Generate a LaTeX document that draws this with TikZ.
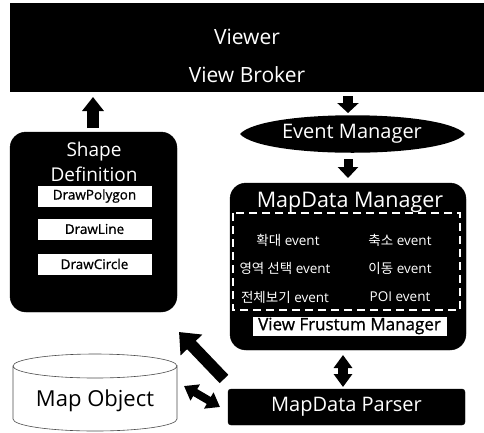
\documentclass[tikz,border=0pt]{standalone}
\usepackage{fontspec}
\setmainfont{Open Sans}
\newfontfamily\kr{Noto Sans CJK KR}
\newfontfamily\heavy{Open Sans}[FakeBold=1]
\usetikzlibrary{arrows.meta,shapes.geometric,calc}
\tikzset{
  blackbox/.style={fill=black, draw=black, text=white, inner sep=0pt},
  whitebox/.style={fill=white, draw=black, text=black, inner sep=0pt, line width=0.6pt},
  txt/.style={inner sep=0pt, text=white},
  evt/.style={inner sep=0pt, text=white, font=\fontsize{13.5}{15}\selectfont},
  blockarrow/.style={line width=#1, draw=black},
  tipA/.tip={Triangle[width=21pt,length=14pt]},
  tipB/.tip={Triangle[width=29pt,length=18pt]},
  tipC/.tip={Triangle[width=18pt,length=13pt]},
}
\begin{document}
\begin{tikzpicture}[x=1pt,y=-1pt]
\useasboundingbox (0,0) rectangle (484,432);

% Viewer / View Broker bar
\node[blackbox, minimum width=474pt, minimum height=88pt] (viewer) at (247,47) {};
\node[txt, font=\fontsize{21}{23}\selectfont] (vtxt) at (247,37) {Viewer};
\node[txt, font=\fontsize{21}{23}\selectfont] (broker) at (247,75) {View Broker};

% Event Manager (lens-shaped outline with its label)
\fill[black] (240,134) .. controls (262,109) and (443,109) .. (465,134)
  .. controls (443,159) and (262,159) .. cycle;
\node[txt, font=\fontsize{20}{22}\selectfont] (event) at (352,134) {Event Manager};

% Shape Definition
\node[blackbox, rounded corners=16pt, minimum width=167pt, minimum height=180pt] (shape) at (93.5,222) {};
\node[txt, font=\fontsize{19}{21}\selectfont] (shapet1) at (94,152) {Shape};
\node[txt, font=\fontsize{19}{21}\selectfont] (shapet2) at (94,174) {Definition};
\node[whitebox, minimum width=115pt, minimum height=22pt, font=\fontsize{13.5}{15}\heavy] (poly) at (94.5,196) {DrawPolygon};
\node[whitebox, minimum width=115pt, minimum height=22pt, font=\fontsize{13.5}{15}\heavy] (line) at (94.5,229) {DrawLine};
\node[whitebox, minimum width=115pt, minimum height=22pt, font=\fontsize{13.5}{15}\heavy] (circle) at (94.5,264) {DrawCircle};

% MapData Manager
\node[blackbox, rounded corners=16pt, minimum width=236pt, minimum height=167pt] (manager) at (348,266.5) {};
\node[txt, font=\fontsize{21.5}{23}\selectfont] (mtitle) at (350,202) {MapData Manager};
\draw[white, line width=1.8pt, dash pattern=on 8pt off 5pt] (233,213) rectangle (460,310);
\node[evt] (e1) at (288,240) {{\kr 확대} event};
\node[evt] (e2) at (400,240) {{\kr 축소} event};
\node[evt] (e3) at (285,268) {{\kr 영역 선택} event};
\node[evt] (e4) at (400,268) {{\kr 이동} event};
\node[evt] (e5) at (285,297) {{\kr 전체보기} event};
\node[evt] (e6) at (400,297) {POI event};
\node[whitebox, minimum width=195pt, minimum height=20pt, font=\fontsize{17}{18}\heavy] (frustum) at (349.5,326) {View Frustum Manager};

% MapData Parser
\node[blackbox, rounded corners=3pt, minimum width=237pt, minimum height=36pt, font=\fontsize{20}{22}\selectfont] (parser) at (346.5,407) {MapData Parser};

% Map Object cylinder
\draw[draw=black!70, fill=white, line width=0.6pt]
  (13,366) -- (13,419) arc[start angle=180, end angle=360, x radius=82, y radius=-12] -- (177,366)
  arc[start angle=0, end angle=360, x radius=82, y radius=12];
\node[inner sep=0pt, font=\fontsize{22}{25}\selectfont] (mapobj) at (95,401) {Map Object};

% Block arrows
\coordinate (a1s) at (93,128);
\coordinate (a1e) at (93,97);
\draw[blockarrow=12pt, -{tipA}] (a1s) -- (a1e);

\coordinate (a2s) at (348,96);
\coordinate (a2e) at (348,113);
\draw[blockarrow=10pt, -{Triangle[width=21pt,length=10pt]}] (a2s) -- (a2e);

\coordinate (a3s) at (348,159);
\coordinate (a3e) at (348,178);
\draw[blockarrow=9pt, -{Triangle[width=20pt,length=11pt]}] (a3s) -- (a3e);

\coordinate (a4s) at (343,355);
\coordinate (a4e) at (343,387);
\draw[blockarrow=10pt, {tipC}-{tipC}] (a4s) -- (a4e);

\coordinate (a5s) at (224,379);
\coordinate (a5e) at (179,332);
\draw[blockarrow=12pt, -{tipB}] (a5s) -- (a5e);

\coordinate (a6s) at (184,386);
\coordinate (a6e) at (220,407);
\draw[blockarrow=8pt, {tipC}-{tipC}] (a6s) -- (a6e);
\end{tikzpicture}
\end{document}
